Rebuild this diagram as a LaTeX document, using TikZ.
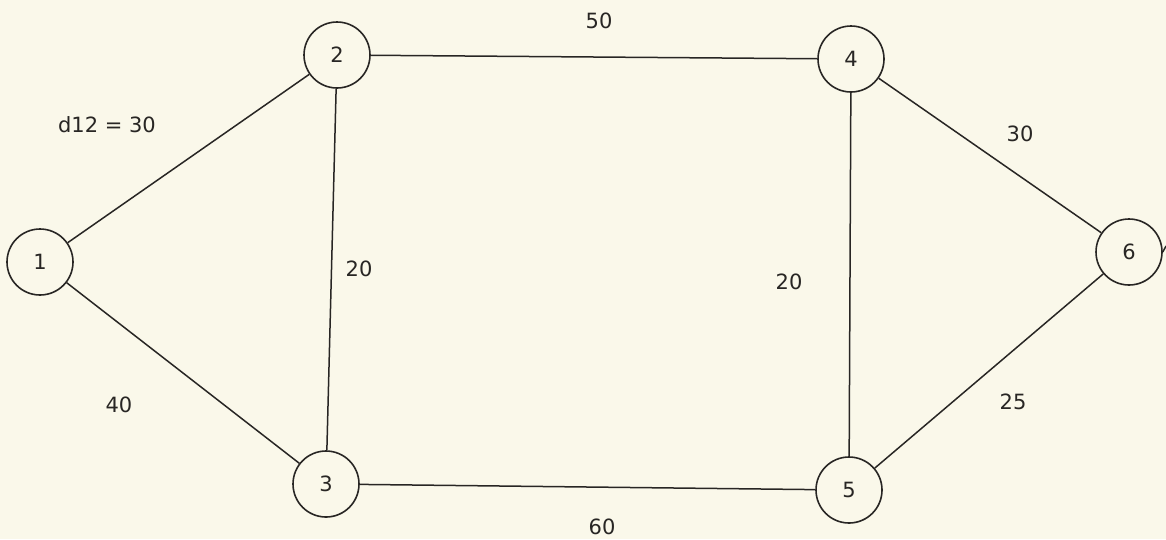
\documentclass[tikz,border=0pt]{standalone}
\usepackage{fontspec}
\setmainfont{DejaVu Sans}
\definecolor{bg}{RGB}{250,248,234}
\definecolor{ink}{RGB}{40,38,36}
\begin{document}
\begin{tikzpicture}[x=1pt,y=-1pt,
  vertex/.style={circle,draw=ink,line width=1.6pt,minimum size=66pt,inner sep=0pt,font=\fontsize{21}{24}\selectfont,text=ink},
  edge/.style={draw=ink,line width=1.5pt},
  wlabel/.style={font=\fontsize{21}{24}\selectfont,text=ink,inner sep=0pt}]
\fill[bg] (0,0) rectangle (1166,539);
\useasboundingbox (0,0) rectangle (1166,539);
\node[vertex] (n1) at (40,262) {1};
\node[vertex] (n2) at (337,55) {2};
\node[vertex] (n3) at (326,484) {3};
\node[vertex] (n4) at (851,59) {4};
\node[vertex] (n5) at (849,490) {5};
\node[vertex] (n6) at (1129,252) {6};
\coordinate (stub) at (1166,246);
\draw[edge] (n1) -- (n2);
\draw[edge] (n1) -- (n3);
\draw[edge] (n2) -- (n3);
\draw[edge] (n2) -- (n4);
\draw[edge] (n3) -- (n5);
\draw[edge] (n4) -- (n5);
\draw[edge] (n4) -- (n6);
\draw[edge] (n5) -- (n6);
\draw[edge] (n6.east) -- (stub);
\node[wlabel] (l12) at (107,125) {d12 = 30};
\node[wlabel] (l24) at (599,21) {50};
\node[wlabel] (l23) at (359,269) {20};
\node[wlabel] (l45) at (789,282) {20};
\node[wlabel] (l46) at (1020,134) {30};
\node[wlabel] (l13) at (119,405) {40};
\node[wlabel] (l56) at (1013,402) {25};
\node[wlabel] (l35) at (602,527) {60};
\end{tikzpicture}
\end{document}
